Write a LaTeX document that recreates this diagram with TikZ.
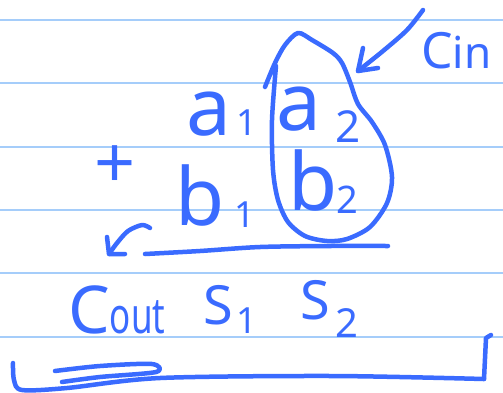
\documentclass[tikz,border=0pt]{standalone}
\usepackage{fontspec}
\setmainfont{Noto Sans}
\definecolor{ink}{RGB}{58,107,255}
\definecolor{rulec}{RGB}{165,205,250}
\begin{document}
\begin{tikzpicture}[x=1pt,y=-1pt,
  inkline/.style={draw=ink, line width=4.5pt, line cap=round, line join=round},
  ruleline/.style={draw=rulec, line width=2pt},
  txt/.style={text=ink, inner sep=0pt, anchor=base west},
  big/.style={txt, font=\fontsize{80}{80}\selectfont},
  mid/.style={txt, font=\fontsize{54}{54}\selectfont},
  subs/.style={txt, font=\fontsize{36}{36}\selectfont\bfseries}]
\fill[white] (0,0) rectangle (503,392);
\useasboundingbox (0,0) rectangle (503,392);
% ruled lines
\foreach \yy in {20,83,147,210,273,337} \draw[ruleline] (0,\yy) -- (503,\yy);
% digits
\node[big] (a1) at (186,135) {a};
\node[subs] (a1s) at (236,135) {1};
\node[big] (a2) at (276,130) {a};
\node[subs,font=\fontsize{44}{44}\selectfont\bfseries] (a2s) at (335,142) {2};
\node[txt,font=\fontsize{72}{72}\selectfont\bfseries] (plus) at (94,188) {+};
\node[big] (b1) at (175,225) {b};
\node[subs] (b1s) at (234,227) {1};
\node[big] (b2) at (288,210) {b};
\node[subs,font=\fontsize{38}{38}\selectfont\bfseries] (b2s) at (336,213) {2};
\node[txt] (cout) at (68,333) {{\fontsize{66}{66}\selectfont C}\scalebox{0.7}[1]{\fontsize{50}{50}\selectfont out}};
\node[mid] (s1) at (203,324) {S};
\node[subs] (s1s) at (236,333) {1};
\node[mid] (s2) at (300,319) {S};
\node[subs,font=\fontsize{40}{40}\selectfont\bfseries] (s2s) at (335,337) {2};
\node[txt] (cin) at (421,68) {{\fontsize{50}{50}\selectfont C}{\fontsize{44}{44}\selectfont in}};
% loop round the second column
\draw[inkline] plot[smooth] coordinates {(265,87) (275,63) (285,45) (298,33) (312,40) (333,53) (342,63) (350,82) (358,104) (372,122) (385,145) (392,177) (387,203) (370,227) (347,239) (327,241) (305,236) (288,222) (278,200) (273,170) (272,120) (276,66)};
% arrow from cin
\coordinate (arrowstart) at (423,10);
\coordinate (arrowtip) at (358,71);
\draw[inkline] plot[smooth] coordinates {(arrowstart) (407,30) (383,51) (arrowtip)};
\draw[inkline] (363,48) -- (arrowtip) -- (378,68);
% carry arrow
\coordinate (carrystart) at (150,228);
\coordinate (carrytip) at (109,254);
\draw[inkline] plot[smooth] coordinates {(carrystart) (142,225) (128,231) (117,243) (carrytip)};
\draw[inkline] (107,237) -- (carrytip) -- (125,254);
% sum line
\draw[inkline] plot[smooth] coordinates {(145,254) (200,251) (260,247) (330,246) (388,246)};
% bottom bracket
\draw[inkline] plot[smooth] coordinates {(13,363) (14,380) (22,390) (67,388) (160,378) (333,376) (484,379)};
\draw[inkline] (484,379) -- (486,338) -- (491,335);
\draw[inkline] plot[smooth] coordinates {(55,371) (100,366) (152,364) (156,372) (100,377) (62,382)};
\end{tikzpicture}
\end{document}
